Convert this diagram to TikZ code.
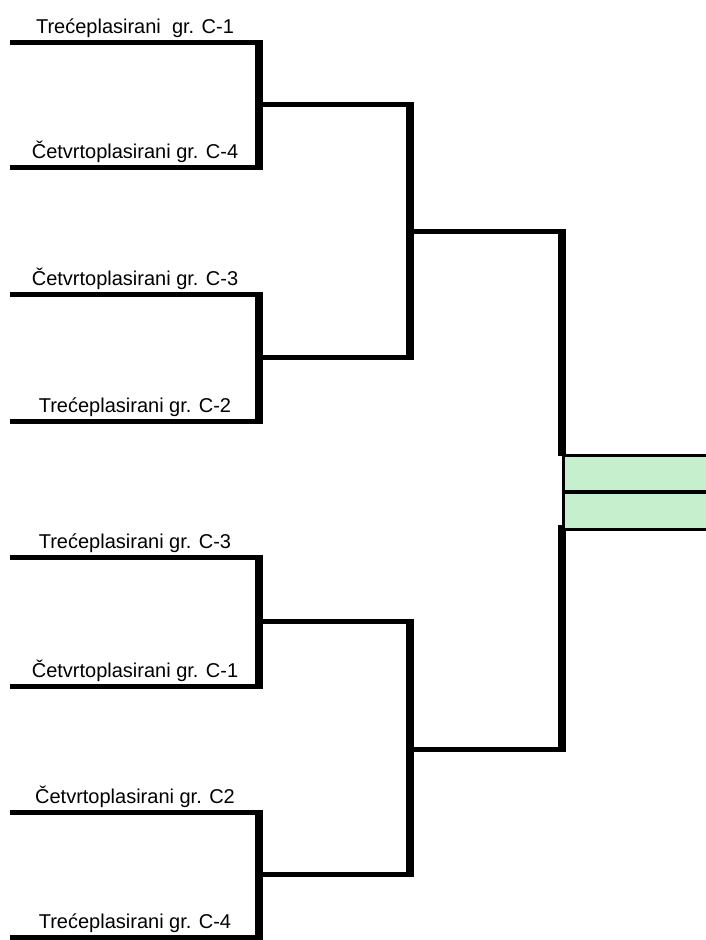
\documentclass[tikz,border=0pt]{standalone}
\usepackage{fontspec}
\setmainfont{Liberation Sans}
\usepackage{tikz}
\definecolor{goodgreen}{RGB}{198,239,206}
\tikzstyle{team}=[font=\fontsize{20}{24}\selectfont,
anchor=base,
inner sep=0pt]
\tikzstyle{slot}=[line width=5pt]
\tikzstyle{bracket}=[line width=8pt,
shorten <=-2.5pt,
shorten >=-2.5pt]
\tikzstyle{final}=[rectangle,
fill=goodgreen,
draw=black,
line width=3pt,
anchor=north west,
minimum width=150pt,
inner sep=0pt]

\begin{document}
\begin{tikzpicture}[x=1pt,y=-1pt]
	\useasboundingbox (0,0) rectangle (706,940);
	
	% First round: one line per team, with its name above it
	\foreach \i/\y/\lbl in {1/42/{Trećeplasirani\ \ gr. C-1},
		2/167/{Četvrtoplasirani gr. C-4},
		3/294/{Četvrtoplasirani gr. C-3},
		4/421/{Trećeplasirani gr. C-2},
		5/557/{Trećeplasirani gr. C-3},
		6/686/{Četvrtoplasirani gr. C-1},
		7/812/{Četvrtoplasirani gr. C2},
		8/937/{Trećeplasirani gr. C-4}} {
		\coordinate (a_\i) at (10,\y);
		\coordinate (b_\i) at (259,\y);
		\node (l_\i) [team] at (135,\y-9) {\lbl};
		\draw[slot] (a_\i) -- (b_\i);
	}
	
	% Second round
	\coordinate (m_1) at (259,104.5);
	\coordinate (m_2) at (259,357.5);
	\coordinate (m_3) at (259,621.5);
	\coordinate (m_4) at (259,874.5);
	\coordinate (c_1) at (410,104.5);
	\coordinate (c_2) at (410,357.5);
	\coordinate (c_3) at (410,621.5);
	\coordinate (c_4) at (410,874.5);
	
	% Semi finals
	\coordinate (n_1) at (410,231.5);
	\coordinate (n_2) at (410,749.5);
	\coordinate (f_1) at (562,231.5);
	\coordinate (f_2) at (562,749.5);
	\coordinate (g_1) at (562,453.5);
	\coordinate (g_2) at (562,527.5);
	
	% The bracket lines
	\draw[bracket] (b_1) -- (b_2);
	\draw[bracket] (b_3) -- (b_4);
	\draw[bracket] (b_5) -- (b_6);
	\draw[bracket] (b_7) -- (b_8);
	\draw[slot] (m_1) -- (c_1);
	\draw[slot] (m_2) -- (c_2);
	\draw[slot] (m_3) -- (c_3);
	\draw[slot] (m_4) -- (c_4);
	\draw[bracket] (c_1) -- (c_2);
	\draw[bracket] (c_3) -- (c_4);
	\draw[slot] (n_1) -- (f_1);
	\draw[slot] (n_2) -- (f_2);
	\draw[bracket] (f_1) -- (g_1);
	\draw[bracket] (f_2) -- (g_2);
	
	% Final: two green cells
	\node (w_1) [final, minimum height=36.5pt] at (561.5,453.5) {};
	\node (w_2) [final, minimum height=36.5pt] at (561.5,491) {};
\end{tikzpicture}
\end{document}
